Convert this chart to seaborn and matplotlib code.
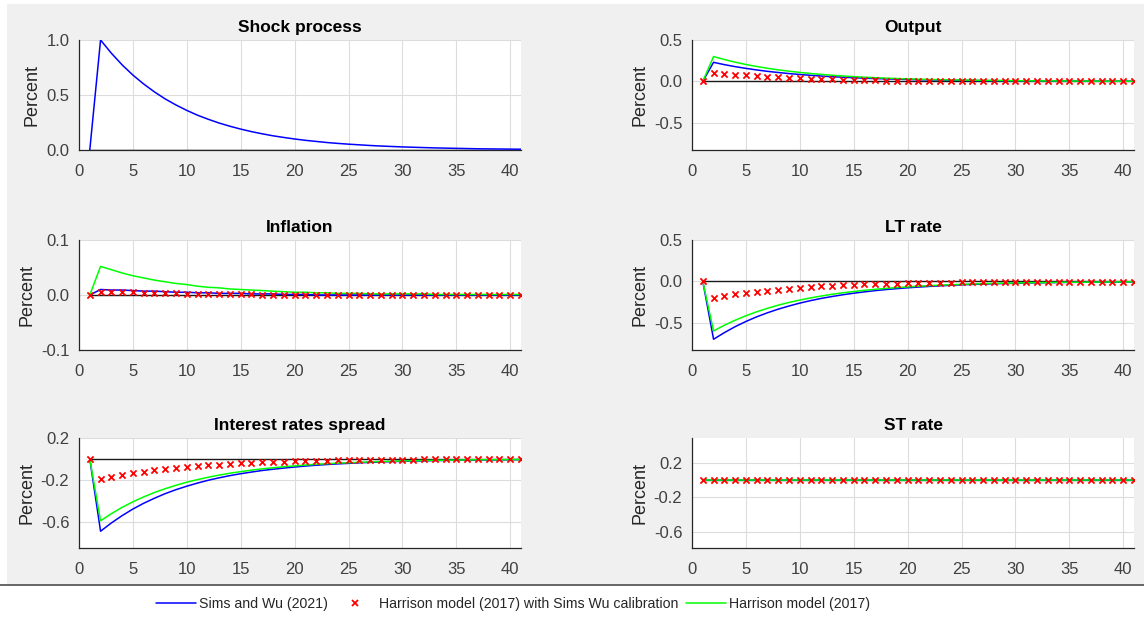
import matplotlib
matplotlib.use("Agg")
import matplotlib.pyplot as plt
from matplotlib.lines import Line2D
from matplotlib.patches import Rectangle
import seaborn as sns

sns.set_style("white")
plt.rcParams["font.family"] = ["Liberation Sans", "DejaVu Sans"]

# Quarters after the shock
periods = list(range(1, 42))

# Shock process (identical across the three models)
shock = [0, 1.000, 0.880, 0.774, 0.681, 0.600, 0.528, 0.464, 0.409, 0.360,
         0.316, 0.279, 0.245, 0.216, 0.190, 0.167, 0.147, 0.129, 0.114, 0.100,
         0.088, 0.078, 0.068, 0.060, 0.053, 0.047, 0.041, 0.036, 0.032, 0.028,
         0.025, 0.022, 0.019, 0.017, 0.015, 0.013, 0.011, 0.010, 0.009, 0.008,
         0.007]

# Output
output_sw = [0, 0.230, 0.202, 0.178, 0.157, 0.138, 0.121, 0.107, 0.094, 0.083,
             0.073, 0.064, 0.056, 0.050, 0.044, 0.038, 0.034, 0.030, 0.026, 0.023,
             0.020, 0.018, 0.016, 0.014, 0.012, 0.011, 0.009, 0.008, 0.007, 0.006,
             0.006, 0.005, 0.004, 0.004, 0.003, 0.003, 0.003, 0.002, 0.002, 0.002,
             0.002]
output_hsw = [0, 0.100, 0.090, 0.080, 0.071, 0.063, 0.055, 0.048, 0.042, 0.037,
              0.032, 0.028, 0.024, 0.021, 0.018, 0.015, 0.012, 0.010, 0.008, 0.006,
              0.004, 0.003, 0.002, 0.001, 0.001, 0, 0, 0, 0, 0,
              0, 0, 0, 0, 0, 0, 0, 0, 0, 0,
              0]
output_h = [0, 0.300, 0.264, 0.232, 0.204, 0.180, 0.158, 0.139, 0.123, 0.108,
            0.095, 0.084, 0.074, 0.065, 0.057, 0.050, 0.044, 0.039, 0.034, 0.030,
            0.026, 0.023, 0.020, 0.018, 0.016, 0.014, 0.012, 0.011, 0.010, 0.008,
            0.007, 0.006, 0.006, 0.005, 0.004, 0.004, 0.003, 0.003, 0.003, 0.002,
            0.002]

# Inflation
infl_sw = [0, 0.010, 0.009, 0.009, 0.008, 0.007, 0.007, 0.006, 0.005, 0.005,
           0.004, 0.004, 0.003, 0.003, 0.003, 0.002, 0.002, 0.002, 0.001, 0.001,
           0.001, 0, 0, 0, 0, 0, 0, 0, 0, 0,
           0, 0, 0, 0, 0, 0, 0, 0, 0, 0,
           0]
infl_hsw = [0, 0.006, 0.006, 0.005, 0.005, 0.004, 0.004, 0.003, 0.003, 0.002,
            0.002, 0.002, 0.001, 0.001, 0.001, 0.001, 0, 0, 0, 0,
            0, 0, 0, 0, 0, 0, 0, 0, 0, 0,
            0, 0, 0, 0, 0, 0, 0, 0, 0, 0,
            0]
infl_h = [0, 0.052, 0.046, 0.040, 0.035, 0.031, 0.027, 0.024, 0.021, 0.019,
          0.016, 0.014, 0.013, 0.011, 0.010, 0.009, 0.008, 0.007, 0.006, 0.005,
          0.005, 0.004, 0.004, 0.003, 0.003, 0.003, 0.002, 0.002, 0.002, 0.002,
          0.002, 0.002, 0.001, 0.001, 0.001, 0.001, 0.001, 0.001, 0.001, 0.001,
          0.001]

# Long-term rate
lt_sw = [0, -0.700, -0.620, -0.548, -0.485, -0.429, -0.380, -0.336, -0.298, -0.263,
         -0.233, -0.206, -0.183, -0.162, -0.143, -0.127, -0.112, -0.099, -0.088, -0.078,
         -0.069, -0.061, -0.054, -0.048, -0.042, -0.037, -0.033, -0.029, -0.026, -0.023,
         -0.020, -0.018, -0.016, -0.014, -0.013, -0.011, -0.010, -0.009, -0.008, -0.007,
         -0.006]
lt_hsw = [0, -0.200, -0.178, -0.158, -0.141, -0.125, -0.111, -0.099, -0.088, -0.078,
          -0.069, -0.061, -0.054, -0.048, -0.043, -0.038, -0.034, -0.030, -0.026, -0.023,
          -0.020, -0.018, -0.016, -0.014, -0.013, -0.011, -0.010, -0.009, -0.008, -0.007,
          -0.006, -0.006, -0.005, -0.005, -0.004, -0.004, -0.003, -0.003, -0.003, -0.002,
          -0.002]
lt_h = [0, -0.600, -0.531, -0.470, -0.416, -0.368, -0.326, -0.288, -0.255, -0.226,
        -0.200, -0.177, -0.156, -0.138, -0.123, -0.108, -0.096, -0.085, -0.075, -0.067,
        -0.059, -0.052, -0.046, -0.041, -0.036, -0.032, -0.028, -0.025, -0.022, -0.020,
        -0.017, -0.015, -0.014, -0.012, -0.011, -0.010, -0.009, -0.008, -0.007, -0.006,
        -0.005]

# Interest rate spread (long minus short)
spread_sw = [0, -0.690, -0.611, -0.541, -0.478, -0.423, -0.375, -0.331, -0.293, -0.260,
             -0.230, -0.203, -0.180, -0.159, -0.141, -0.125, -0.110, -0.098, -0.087, -0.077,
             -0.068, -0.060, -0.053, -0.047, -0.042, -0.037, -0.033, -0.029, -0.025, -0.023,
             -0.020, -0.018, -0.016, -0.014, -0.012, -0.011, -0.010, -0.009, -0.008, -0.007,
             -0.006]
spread_hsw = [0, -0.190, -0.170, -0.152, -0.135, -0.121, -0.107, -0.096, -0.085, -0.076,
              -0.067, -0.060, -0.053, -0.047, -0.042, -0.037, -0.033, -0.029, -0.026, -0.023,
              -0.020, -0.018, -0.016, -0.014, -0.012, -0.011, -0.010, -0.009, -0.008, -0.007,
              -0.006, -0.005, -0.005, -0.004, -0.004, -0.003, -0.003, -0.003, -0.002, -0.002,
              -0.002]
spread_h = [0, -0.590, -0.522, -0.462, -0.409, -0.362, -0.320, -0.284, -0.251, -0.222,
            -0.197, -0.174, -0.154, -0.136, -0.121, -0.107, -0.094, -0.084, -0.074, -0.066,
            -0.058, -0.051, -0.045, -0.040, -0.036, -0.032, -0.028, -0.025, -0.022, -0.019,
            -0.017, -0.015, -0.013, -0.012, -0.011, -0.009, -0.008, -0.007, -0.007, -0.006,
            -0.005]

# Short-term rate (held at zero)
st_sw = [0] * 41
st_hsw = [0] * 41
st_h = [0] * 41

series_labels = ["Sims and Wu (2021)",
                 "Harrison model (2017) with Sims Wu calibration",
                 "Harrison model (2017)"]

panels = [
    ("Shock process", shock, None, None, (0, 1.0), [0.0, 0.5, 1.0]),
    ("Output", output_sw, output_hsw, output_h, (-0.83, 0.5), [-0.5, 0.0, 0.5]),
    ("Inflation", infl_sw, infl_hsw, infl_h, (-0.1, 0.1), [-0.1, 0.0, 0.1]),
    ("LT rate", lt_sw, lt_hsw, lt_h, (-0.83, 0.5), [-0.5, 0.0, 0.5]),
    ("Interest rates spread", spread_sw, spread_hsw, spread_h, (-0.85, 0.2), [-0.6, -0.2, 0.2]),
    ("ST rate", st_sw, st_hsw, st_h, (-0.79, 0.49), [-0.6, -0.2, 0.2]),
]

BLUE = "#0000ff"
RED = "#ff0000"
GREEN = "#00ff00"
AX_COL = "#262626"
TICK_COL = "#404040"

W, H = 1144, 619
fig = plt.figure(figsize=(W / 100, H / 100), dpi=100, facecolor="white")

# grey figure area with a separator above the legend strip
fig.patches.append(Rectangle((7 / W, 1 - 585 / H), 1 - 7 / W, (585 - 4) / H,
                             transform=fig.transFigure, facecolor="#f0f0f0",
                             edgecolor="none", zorder=-10))
fig.add_artist(Line2D([0, 1], [1 - 585 / H, 1 - 585 / H], transform=fig.transFigure,
                      color="#4d4d4d", lw=1.2))

col_x = [(79, 521), (692, 1134)]
row_y = [(40, 150), (240, 350), (438, 548)]

for i, (title, sw, hsw, h, ylim, yticks) in enumerate(panels):
    r, c = divmod(i, 2)
    x0, x1 = col_x[c]
    y0, y1 = row_y[r]
    ax = fig.add_axes([x0 / W, 1 - y1 / H, (x1 - x0) / W, (y1 - y0) / H])
    ax.set_facecolor("white")

    ax.plot([1, 41], [0, 0], color="#1a1a1a", lw=1.0, zorder=2)
    sns.lineplot(x=periods, y=sw, ax=ax, color=BLUE, lw=1.1, zorder=3)
    if h is not None:
        sns.lineplot(x=periods, y=h, ax=ax, color=GREEN, lw=1.1, zorder=4)
    if hsw is not None:
        sns.scatterplot(x=periods, y=hsw, ax=ax, color=RED, marker="x", s=20,
                        linewidth=1.3, zorder=5)

    ax.set_xlim(0, 41)
    ax.set_ylim(*ylim)
    ax.set_xticks(range(0, 41, 5))
    ax.set_yticks(yticks)
    ax.set_yticklabels([f"{v:.1f}" for v in yticks])
    ax.grid(True, color="#dcdcdc", lw=0.8)
    ax.set_axisbelow(True)
    for side in ("top", "right"):
        ax.spines[side].set_visible(False)
    for side in ("left", "bottom"):
        ax.spines[side].set_color(AX_COL)
        ax.spines[side].set_linewidth(0.9)
    ax.tick_params(axis="both", labelsize=12, colors=AX_COL, labelcolor=TICK_COL,
                   direction="in", length=3, width=0.8)
    ax.tick_params(axis="x", pad=10)
    ax.tick_params(axis="y", pad=7)
    ax.set_title(title, fontsize=12.5, fontweight="bold", color="black", pad=6)
    ax.set_ylabel("Percent", fontsize=13, color=AX_COL, labelpad=4)
    ax.set_xlabel("")

handles = [
    Line2D([], [], color=BLUE, lw=1.1),
    Line2D([], [], color=RED, marker="x", linestyle="none", markersize=5, markeredgewidth=1.3),
    Line2D([], [], color=GREEN, lw=1.1),
]
fig.legend(handles, series_labels, loc="center", bbox_to_anchor=(513 / W, 1 - 604 / H),
           ncol=3, frameon=False, fontsize=10.15, handlelength=2.85, handletextpad=0.25,
           columnspacing=0.5, labelcolor=AX_COL)

fig.savefig("out.png", dpi=100, facecolor=fig.get_facecolor())
